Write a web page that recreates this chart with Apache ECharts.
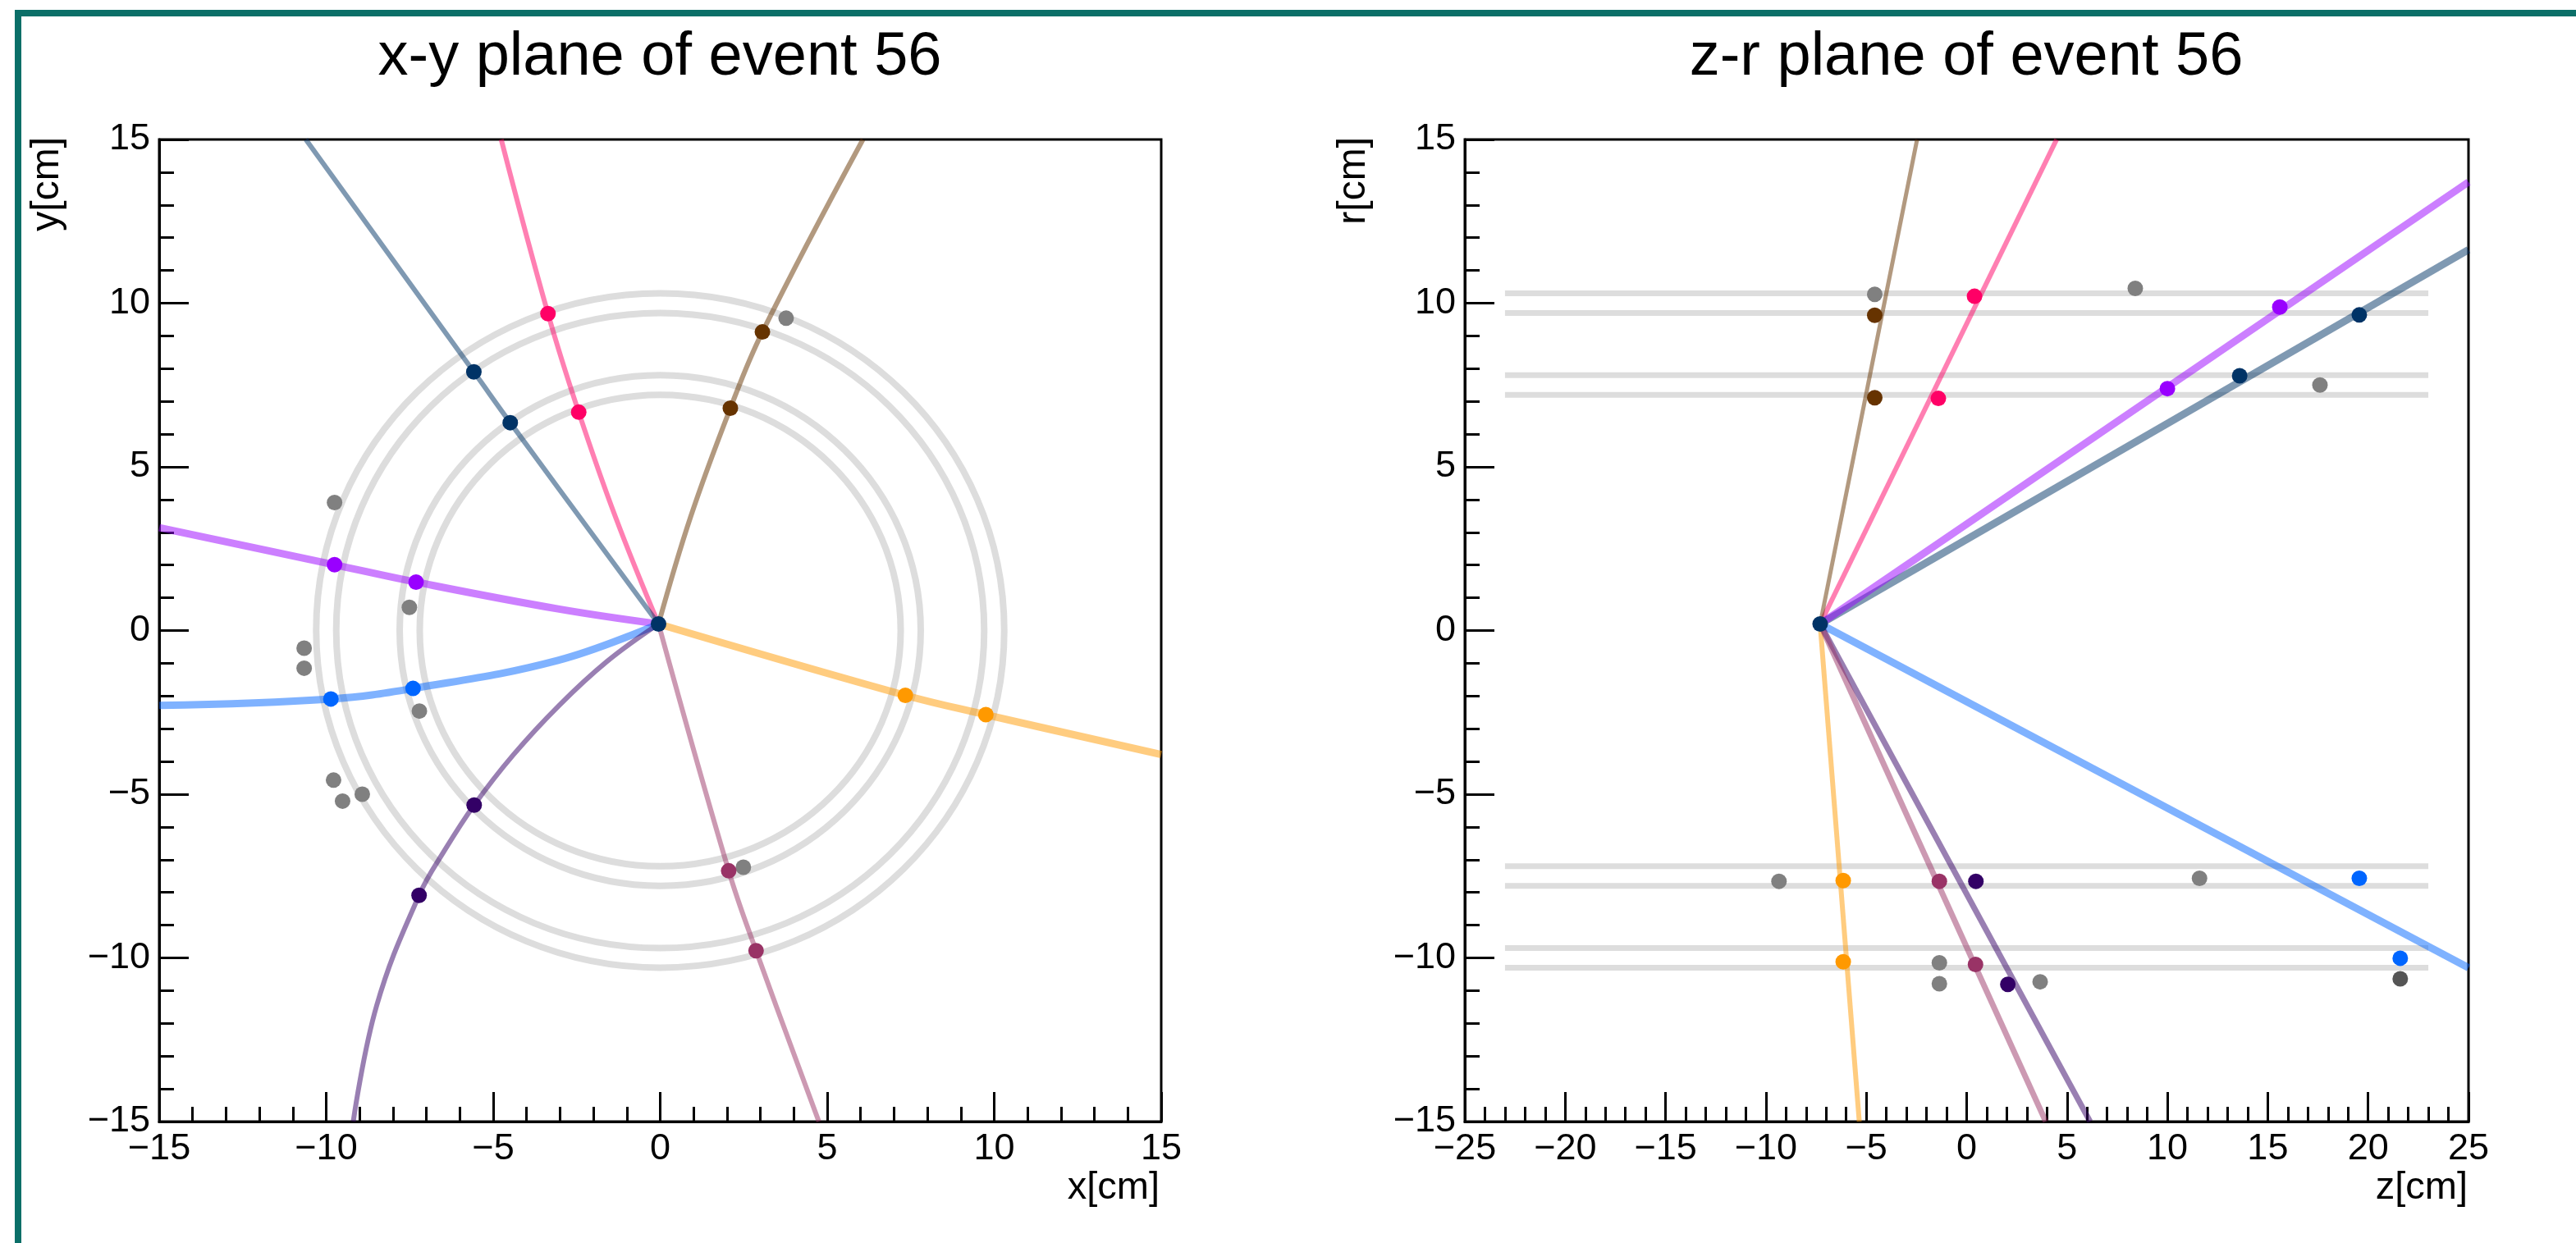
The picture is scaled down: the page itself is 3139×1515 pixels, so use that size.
<!DOCTYPE html>
<html>
<head>
<meta charset="utf-8">
<title>event 56 display</title>
<script src="https://cdn.jsdelivr.net/npm/echarts@6/dist/echarts.min.js"></script>
<style>
  html, body { margin: 0; padding: 0; background: #fff; }
  #chart { width: 3139px; height: 1515px; }
</style>
</head>
<body>
<div id="chart"></div>
<script>
// ---------- axis ranges ----------
const xyRange = [-15, 15];
const zRange = [-25, 25];
const rRange = [-15, 15];
const tickStep = 5;

// ---------- detector layers ----------
const layerRadii = [7.2, 7.8, 9.7, 10.3];   // cm
const layerZSpan = [-23, 23];               // cm

// ---------- tracks (order: pink, navy, brown, violet, blue, orange, indigo, plum) ----------
const trackNames = ['pink', 'navy', 'brown', 'violet', 'blue', 'orange', 'indigo', 'plum'];

// primary vertex
const vertexXY = [-0.05, 0.2];
const vertexZR = [-7.3, 0.2];

// fitted track paths in the x-y plane
const xyPathPink   = [[-0.05, 0.2], [-1.34, 3.47], [-2.44, 6.67], [-3.36, 9.68], [-4.76, 15]];
const xyPathNavy   = [[-0.05, 0.2], [-4.49, 6.35], [-5.58, 7.90], [-10.61, 15]];
const xyPathBrown  = [[-0.05, 0.2], [0.91, 3.47], [2.10, 6.79], [3.06, 9.12], [6.07, 15]];
const xyPathViolet = [[-0.05, 0.2], [-3.06, 0.66], [-7.31, 1.48], [-9.75, 2.01], [-15, 3.14]];
const xyPathBlue   = [[-0.05, 0.2], [-3.06, -0.91], [-7.40, -1.77], [-9.86, -2.09], [-15, -2.29]];
const xyPathOrange = [[-0.05, 0.2], [7.34, -1.98], [9.75, -2.57], [15, -3.79]];
const xyPathIndigo = [[-0.05, 0.2], [-1.6, -0.95], [-3.04, -2.30], [-4.40, -3.80], [-5.57, -5.33],
                      [-6.44, -6.69], [-7.22, -8.09], [-8.49, -11.46], [-9.19, -15]];
const xyPathPlum   = [[-0.05, 0.2], [2.05, -7.34], [2.87, -9.78], [4.75, -15]];

// hits assigned to each track in the x-y plane
const xyHitsPink   = [[-3.36, 9.68], [-2.44, 6.67]];
const xyHitsNavy   = [[-5.58, 7.90], [-4.49, 6.35]];
const xyHitsBrown  = [[3.06, 9.12], [2.10, 6.79]];
const xyHitsViolet = [[-9.75, 2.01], [-7.31, 1.48]];
const xyHitsBlue   = [[-9.86, -2.09], [-7.40, -1.77]];
const xyHitsOrange = [[7.34, -1.98], [9.75, -2.57]];
const xyHitsIndigo = [[-5.57, -5.33], [-7.22, -8.09]];
const xyHitsPlum   = [[2.05, -7.34], [2.87, -9.78]];
// unassigned hits
const xyHitsFree = [[3.77, 9.54], [-9.75, 3.91], [-7.51, 0.71], [-10.66, -0.54], [-10.66, -1.15],
                    [-7.21, -2.46], [-9.78, -4.57], [-9.51, -5.21], [-8.92, -5.0], [2.49, -7.23]];

// straight track ends in the z-r plane (start at the vertex)
const zrEndPink   = [4.48, 15];
const zrEndNavy   = [25, 11.63];
const zrEndBrown  = [-2.47, 15];
const zrEndViolet = [25, 13.70];
const zrEndBlue   = [25, -10.30];
const zrEndOrange = [-5.35, -15];
const zrEndIndigo = [6.15, -15];
const zrEndPlum   = [3.94, -15];

// hits assigned to each track in the z-r plane
const zrHitsPink   = [[0.39, 10.21], [-1.41, 7.09]];
const zrHitsNavy   = [[19.56, 9.64], [13.6, 7.78]];
const zrHitsBrown  = [[-4.58, 9.63], [-4.58, 7.11]];
const zrHitsViolet = [[15.6, 9.88], [10.0, 7.39]];
const zrHitsBlue   = [[19.56, -7.57], [21.6, -10.01]];
const zrHitsOrange = [[-6.15, -7.64], [-6.15, -10.12]];
const zrHitsIndigo = [[0.46, -7.66], [2.05, -10.81]];
const zrHitsPlum   = [[-1.36, -7.66], [0.44, -10.20]];
// unassigned hits
const zrHitsFree = [[-4.58, 10.27], [8.40, 10.45], [17.6, 7.50], [-9.35, -7.66], [11.6, -7.57],
                    [-1.36, -10.15], [-1.36, -10.79], [3.66, -10.73]];
const zrHitsFreeDark = [[21.6, -10.64]];

// ---------- styling ----------
const trackColors = ['#ff0066', '#003366', '#663300', '#9900ff', '#0066ff', '#ff9900', '#330066', '#993366'];
const xyLineWidths = [6, 6, 6, 9, 9, 9, 6, 6];
const zrLineWidths = [6, 9, 5, 9, 9, 6, 7, 7];
const FONT = '"Liberation Sans", Arial, Helvetica, sans-serif';
const LAYER_COLOR = '#dddddd';
const HIT_SIZE = 19;

const xyPaths = [xyPathPink, xyPathNavy, xyPathBrown, xyPathViolet, xyPathBlue, xyPathOrange, xyPathIndigo, xyPathPlum];
const xyHits = [xyHitsPink, xyHitsNavy, xyHitsBrown, xyHitsViolet, xyHitsBlue, xyHitsOrange, xyHitsIndigo, xyHitsPlum];
const zrEnds = [zrEndPink, zrEndNavy, zrEndBrown, zrEndViolet, zrEndBlue, zrEndOrange, zrEndIndigo, zrEndPlum];
const zrHits = [zrHitsPink, zrHitsNavy, zrHitsBrown, zrHitsViolet, zrHitsBlue, zrHitsOrange, zrHitsIndigo, zrHitsPlum];

const minusFmt = v => (v < 0 ? '\u2212' + Math.abs(v) : String(v));

function makeAxis(gridIndex, range) {
  return {
    type: 'value', gridIndex: gridIndex,
    min: range[0], max: range[1], interval: tickStep,
    axisLine: { show: true, onZero: false, lineStyle: { color: '#000', width: 3 } },
    axisTick: { show: true, inside: true, length: 36, lineStyle: { color: '#000', width: 3 } },
    minorTick: { show: true, splitNumber: 5, length: 18, lineStyle: { color: '#000', width: 3 } },
    splitLine: { show: false },
    minorSplitLine: { show: false },
    axisLabel: {
      show: true, color: '#000', fontFamily: FONT, fontSize: 45,
      margin: 11, formatter: minusFmt, showMinLabel: true, showMaxLabel: true, hideOverlap: false
    }
  };
}

const series = [];

// detector layers, x-y plane: rings centred on the beam line
series.push({
  type: 'custom', xAxisIndex: 0, yAxisIndex: 0, silent: true, z: 1, animation: false,
  data: layerRadii.map(r => [0, 0, r]),
  encode: { x: 0, y: 1 },
  renderItem: function (params, api) {
    const c = api.coord([api.value(0), api.value(1)]);
    const s = api.size([api.value(2), api.value(2)]);
    return {
      type: 'ellipse',
      shape: { cx: c[0], cy: c[1], rx: s[0], ry: s[1] },
      style: { fill: 'none', stroke: LAYER_COLOR, lineWidth: 8 }
    };
  }
});

// detector layers, z-r plane: horizontal bands at +/- radius
layerRadii.forEach(r => {
  [r, -r].forEach(rr => {
    series.push({
      type: 'line', xAxisIndex: 1, yAxisIndex: 1, silent: true, z: 1, animation: false,
      symbol: 'none', showSymbol: false,
      data: [[layerZSpan[0], rr], [layerZSpan[1], rr]],
      lineStyle: { color: LAYER_COLOR, width: 7 }
    });
  });
});

// fitted tracks
trackNames.forEach((name, i) => {
  series.push({
    name: name + ' xy', type: 'line', xAxisIndex: 0, yAxisIndex: 0, silent: true, z: 2,
    animation: false, symbol: 'none', showSymbol: false, smooth: 0.4, clip: true,
    data: xyPaths[i],
    lineStyle: { color: trackColors[i], opacity: 0.5, width: xyLineWidths[i], cap: 'butt' }
  });
  series.push({
    name: name + ' zr', type: 'line', xAxisIndex: 1, yAxisIndex: 1, silent: true, z: 2,
    animation: false, symbol: 'none', showSymbol: false, clip: true,
    data: [vertexZR, zrEnds[i]],
    lineStyle: { color: trackColors[i], opacity: 0.5, width: zrLineWidths[i], cap: 'butt' }
  });
});

// hits
function hitSeries(axisIdx, data, color, z) {
  return {
    type: 'scatter', xAxisIndex: axisIdx, yAxisIndex: axisIdx, silent: true, z: z || 4,
    animation: false, symbol: 'circle', symbolSize: HIT_SIZE, data: data,
    itemStyle: { color: color, opacity: 1 }
  };
}
series.push(hitSeries(0, xyHitsFree, '#808080', 3));
series.push(hitSeries(1, zrHitsFree, '#808080', 3));
series.push(hitSeries(1, zrHitsFreeDark, '#555555', 3));
trackNames.forEach((name, i) => {
  series.push(hitSeries(0, xyHits[i], trackColors[i]));
  series.push(hitSeries(1, zrHits[i], trackColors[i]));
});
series.push(hitSeries(0, [vertexXY], '#003366', 5));
series.push(hitSeries(1, [vertexZR], '#003366', 5));

function label(text, x, y, size, align, vAlign, rotation) {
  return {
    type: 'text', x: x, y: y, rotation: rotation || 0, silent: true, z: 10,
    style: {
      text: text, font: size + 'px ' + FONT, fill: '#000',
      align: align, textAlign: align, verticalAlign: vAlign, textVerticalAlign: vAlign
    }
  };
}

const TEAL = '#0b6f68';

const option = {
  backgroundColor: '#ffffff',
  animation: false,
  grid: [
    { left: 194, top: 170, width: 1221, height: 1197, show: true, borderColor: '#000', borderWidth: 3,
      backgroundColor: 'transparent', containLabel: false, outerBoundsMode: 'none' },
    { left: 1785, top: 170, width: 1223, height: 1197, show: true, borderColor: '#000', borderWidth: 3,
      backgroundColor: 'transparent', containLabel: false, outerBoundsMode: 'none' }
  ],
  xAxis: [makeAxis(0, xyRange), makeAxis(1, zRange)],
  yAxis: [makeAxis(0, xyRange), makeAxis(1, rRange)],
  series: series,
  graphic: [
    { type: 'rect', silent: true, z: 0, shape: { x: 18, y: 12, width: 3121, height: 8 }, style: { fill: TEAL } },
    { type: 'rect', silent: true, z: 0, shape: { x: 18, y: 12, width: 8, height: 1503 }, style: { fill: TEAL } },
    label('x-y plane of event 56', 804, 71, 74, 'center', 'middle'),
    label('z-r plane of event 56', 2396, 71, 74, 'center', 'middle'),
    label('x[cm]', 1413, 1448, 47, 'right', 'middle'),
    label('z[cm]', 3007, 1448, 47, 'right', 'middle'),
    label('y[cm]', 58, 167, 48, 'right', 'middle', Math.PI / 2),
    label('r[cm]', 1650, 167, 48, 'right', 'middle', Math.PI / 2)
  ]
};

const chart = echarts.init(document.getElementById('chart'), null, { renderer: 'canvas' });
chart.setOption(option);
</script>
</body>
</html>
